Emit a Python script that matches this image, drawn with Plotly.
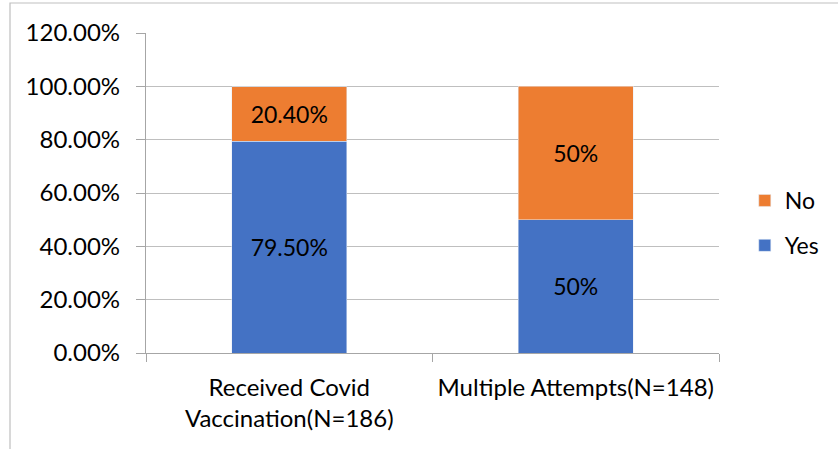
import plotly.graph_objects as go

categories = ["Received Covid<br>Vaccination(N=186)", "Multiple Attempts(N=148)"]
yes_values = [79.5, 50]
no_values = [20.4, 50]
label_formats = ["{:.2f}%", "{:.0f}%"]

BLUE = "#4472C4"
ORANGE = "#ED7D31"
FONT = "Lato"
FS = 24

yes_text = [f.format(v) for f, v in zip(label_formats, yes_values)]
no_text = [f.format(v) for f, v in zip(label_formats, no_values)]

fig = go.Figure()
fig.add_trace(go.Bar(
    x=categories, y=yes_values, name="Yes", marker_color=BLUE,
    legendgroup="yes", legendrank=2,
    text=yes_text, textposition="inside", insidetextanchor="middle",
    textfont=dict(color="black", size=FS - 1, family=FONT), width=0.4,
))
fig.add_trace(go.Bar(
    x=categories, y=no_values, name="No", marker_color=ORANGE,
    legendgroup="no", legendrank=1,
    text=no_text, textposition="inside", insidetextanchor="middle",
    textfont=dict(color="black", size=FS - 1, family=FONT), width=0.4,
))

L, R, T, B = 146, 119, 33, 96
W, H = 838, 449
pw, ph = W - L - R, H - T - B

# outer chart frame (left and top edges visible)
fig.add_shape(type="rect", xref="paper", yref="paper",
              x0=(10 - L) / pw, x1=(W + 5 - L) / pw,
              y0=-(B + 5) / ph, y1=(H - B - 3) / ph,
              line=dict(color="#bfbfbf", width=1.2), layer="below")

fig.update_layout(
    barmode="stack",
    width=W, height=H,
    margin=dict(l=L, r=R, t=T, b=B),
    paper_bgcolor="white", plot_bgcolor="white",
    font=dict(family=FONT, size=FS, color="black"),
    legend=dict(traceorder="grouped", x=1.045, y=(353 - 223) / ph,
                xanchor="left", yanchor="middle",
                font=dict(size=FS - 1, family=FONT), itemwidth=30, tracegroupgap=12),
    showlegend=True,
)
fig.update_xaxes(
    showline=True, linecolor="#a6a6a6", linewidth=1.2,
    ticks="outside", tickson="boundaries", ticklen=8, tickcolor="#a6a6a6",
    tickfont=dict(size=FS, family=FONT), showgrid=False, ticklabelstandoff=13,
)
fig.update_yaxes(
    range=[0, 120], dtick=20, tickformat=".2f", ticksuffix="%",
    showline=True, linecolor="#a6a6a6", linewidth=1.2,
    ticks="outside", ticklen=9, tickcolor="#a6a6a6",
    showgrid=True, gridcolor="#bfbfbf", gridwidth=1.2,
    tickfont=dict(size=FS, family=FONT), zeroline=False, ticklabelstandoff=11,
)

fig.write_html("out.html")
